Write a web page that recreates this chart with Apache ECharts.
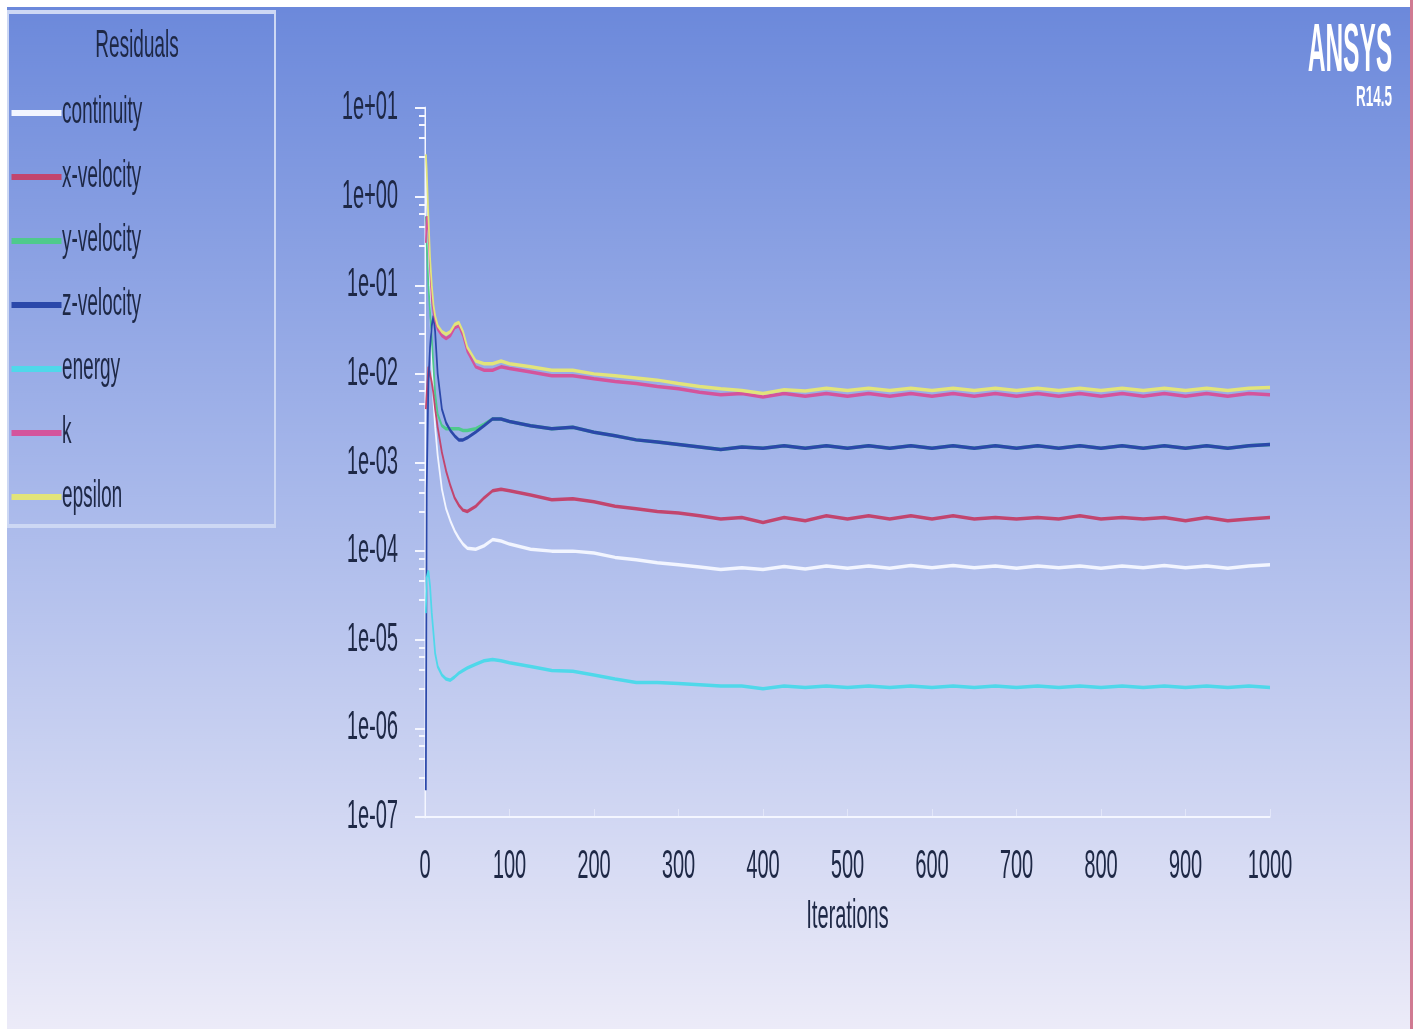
<!DOCTYPE html>
<html>
    <head>
        <title>Residuals</title>
        <meta charset="UTF-8">
        <style>
            html, body { margin: 0; padding: 0; background: #ffffff; overflow: hidden; }
            /* the ANSYS fonts are tall and narrow: draw twice as wide, then squeeze */
            #main { width: 2836px; height: 1029px; transform: scaleX(0.5); transform-origin: 0 0; }
        </style>
    </head>
    <body>
        <div id="main"></div>
        <script src="https://cdn.jsdelivr.net/npm/echarts@6/dist/echarts.min.js"></script>
        <script>
            var iterations = [1, 2, 4, 6, 8, 10, 12, 15, 20, 25, 30, 35, 40, 45, 50, 60, 70, 80, 90, 100,
                125, 150, 175, 200, 225, 250, 275, 300, 325, 350, 375, 400, 425, 450, 475, 500, 525, 550,
                575, 600, 625, 650, 675, 700, 725, 750, 775, 800, 825, 850, 875, 900, 925, 950, 975, 1000];

            var continuity = [2, 1, 0.3, 0.06, 0.015, 5e-3, 2.5e-3, 1.2e-3, 5e-4, 3e-4, 2.2e-4, 1.7e-4, 1.4e-4, 1.2e-4, 1.08e-4, 1.05e-4, 1.15e-4, 1.35e-4, 1.3e-4, 1.2e-4,
                1.05e-4, 1e-4, 1e-4, 9.5e-5, 8.5e-5, 8e-5, 7.4e-5, 7e-5, 6.6e-5, 6.2e-5, 6.5e-5, 6.2e-5, 6.7e-5, 6.3e-5, 6.8e-5, 6.4e-5, 6.8e-5, 6.4e-5,
                6.9e-5, 6.5e-5, 6.9e-5, 6.5e-5, 6.8e-5, 6.4e-5, 6.8e-5, 6.5e-5, 6.8e-5, 6.4e-5, 6.8e-5, 6.5e-5, 6.9e-5, 6.5e-5, 6.8e-5, 6.4e-5, 6.8e-5, 7e-5];
            var xVelocity = [4e-3, 6e-3, 1.2e-2, 1e-2, 8e-3, 6e-3, 4e-3, 2.5e-3, 1.3e-3, 8e-4, 5.5e-4, 4e-4, 3.3e-4, 2.9e-4, 2.8e-4, 3.2e-4, 4e-4, 4.8e-4, 5e-4, 4.8e-4,
                4.3e-4, 3.8e-4, 3.9e-4, 3.6e-4, 3.2e-4, 3e-4, 2.8e-4, 2.7e-4, 2.5e-4, 2.3e-4, 2.4e-4, 2.1e-4, 2.4e-4, 2.2e-4, 2.5e-4, 2.3e-4, 2.5e-4, 2.3e-4,
                2.5e-4, 2.3e-4, 2.5e-4, 2.3e-4, 2.4e-4, 2.3e-4, 2.4e-4, 2.3e-4, 2.5e-4, 2.3e-4, 2.4e-4, 2.3e-4, 2.4e-4, 2.2e-4, 2.4e-4, 2.2e-4, 2.3e-4, 2.4e-4];
            var yVelocity = [0.6, 0.3, 0.1, 0.05, 0.025, 0.012, 6e-3, 3.5e-3, 2.6e-3, 2.4e-3, 2.4e-3, 2.4e-3, 2.4e-3, 2.3e-3, 2.3e-3, 2.4e-3, 2.7e-3, 3.1e-3, 3.1e-3, 2.9e-3,
                2.6e-3, 2.4e-3, 2.5e-3, 2.2e-3, 2e-3, 1.8e-3, 1.7e-3, 1.6e-3, 1.5e-3, 1.4e-3, 1.5e-3, 1.45e-3, 1.55e-3, 1.45e-3, 1.55e-3, 1.45e-3, 1.55e-3, 1.45e-3,
                1.55e-3, 1.45e-3, 1.55e-3, 1.45e-3, 1.55e-3, 1.45e-3, 1.55e-3, 1.45e-3, 1.55e-3, 1.45e-3, 1.55e-3, 1.45e-3, 1.55e-3, 1.45e-3, 1.55e-3, 1.45e-3, 1.55e-3, 1.6e-3];
            var zVelocity = [2e-7, 5e-4, 8e-3, 2e-2, 3.5e-2, 4.5e-2, 3e-2, 1e-2, 4e-3, 2.8e-3, 2.3e-3, 2e-3, 1.8e-3, 1.8e-3, 1.9e-3, 2.2e-3, 2.6e-3, 3.1e-3, 3.1e-3, 2.9e-3,
                2.6e-3, 2.4e-3, 2.5e-3, 2.2e-3, 2e-3, 1.8e-3, 1.7e-3, 1.6e-3, 1.5e-3, 1.4e-3, 1.5e-3, 1.45e-3, 1.55e-3, 1.45e-3, 1.55e-3, 1.45e-3, 1.55e-3, 1.45e-3,
                1.55e-3, 1.45e-3, 1.55e-3, 1.45e-3, 1.55e-3, 1.45e-3, 1.55e-3, 1.45e-3, 1.55e-3, 1.45e-3, 1.55e-3, 1.45e-3, 1.55e-3, 1.45e-3, 1.55e-3, 1.45e-3, 1.55e-3, 1.6e-3];
            var energy = [2e-5, 5e-5, 6e-5, 4e-5, 2e-5, 1.2e-5, 7e-6, 5e-6, 4e-6, 3.6e-6, 3.5e-6, 3.8e-6, 4.2e-6, 4.5e-6, 4.8e-6, 5.3e-6, 5.8e-6, 6e-6, 5.8e-6, 5.5e-6,
                5e-6, 4.5e-6, 4.4e-6, 4e-6, 3.6e-6, 3.3e-6, 3.3e-6, 3.2e-6, 3.1e-6, 3e-6, 3e-6, 2.8e-6, 3e-6, 2.9e-6, 3e-6, 2.9e-6, 3e-6, 2.9e-6,
                3e-6, 2.9e-6, 3e-6, 2.9e-6, 3e-6, 2.9e-6, 3e-6, 2.9e-6, 3e-6, 2.9e-6, 3e-6, 2.9e-6, 3e-6, 2.9e-6, 3e-6, 2.9e-6, 3e-6, 2.9e-6];
            var kResidual = [0.3, 0.6, 0.4, 0.15, 0.07, 0.05, 0.04, 0.032, 0.027, 0.025, 0.027, 0.033, 0.035, 0.027, 0.018, 0.012, 0.011, 0.011, 0.012, 0.0115,
                0.0105, 0.0095, 0.0095, 0.0088, 0.0082, 0.0078, 0.0072, 0.0068, 0.0062, 0.0058, 0.006, 0.0055, 0.006, 0.0056, 0.006, 0.0056, 0.006, 0.0056,
                0.006, 0.0056, 0.006, 0.0056, 0.006, 0.0056, 0.006, 0.0056, 0.006, 0.0056, 0.006, 0.0056, 0.006, 0.0056, 0.006, 0.0056, 0.006, 0.0058];
            var epsilon = [3, 2, 0.6, 0.2, 0.1, 0.06, 0.045, 0.035, 0.03, 0.028, 0.03, 0.036, 0.038, 0.03, 0.02, 0.014, 0.013, 0.013, 0.014, 0.013,
                0.012, 0.011, 0.011, 0.01, 0.0095, 0.009, 0.0085, 0.0078, 0.0072, 0.0068, 0.0065, 0.006, 0.0066, 0.0064, 0.0069, 0.0065, 0.0069, 0.0065,
                0.0069, 0.0065, 0.0069, 0.0065, 0.0069, 0.0065, 0.0069, 0.0065, 0.0069, 0.0065, 0.0069, 0.0065, 0.0069, 0.0065, 0.0069, 0.0065, 0.0069, 0.007];

            var seriesNames = ['continuity', 'x-velocity', 'y-velocity', 'z-velocity', 'energy', 'k', 'epsilon'];
            var seriesValues = [continuity, xVelocity, yVelocity, zVelocity, energy, kResidual, epsilon];

            var gb = {
                color: {
                    text: '#1e2846',
                    axis: '#f4f6ff',
                    lines: ['#f2f5ff', '#c2456e', '#4fca8c', '#2b48aa', '#4fd8ea', '#d4549c', '#e2e47a']
                },
                font: 'Liberation Sans'
            };

            function pairs(values) {
                var out = [];
                for (var i = 0; i < iterations.length; i++) {
                    out.push([iterations[i], values[i]]);
                }
                return out;
            }

            var series = [];
            for (var i = 0; i < seriesNames.length; i++) {
                series.push({
                    name: seriesNames[i],
                    type: 'line',
                    symbol: 'none',
                    data: pairs(seriesValues[i]),
                    lineStyle: {color: gb.color.lines[i], width: 3.5},
                    itemStyle: {color: gb.color.lines[i]}
                });
            }

            var myChart = echarts.init(document.getElementById('main'));
            var option = {
                animation: false,
                graphic: [
                    {
                        type: 'rect', z: -10, silent: true,
                        shape: {x: 14, y: 7, width: 2806, height: 1022},
                        style: {
                            fill: new echarts.graphic.LinearGradient(0, 0, 0, 1, [
                                {offset: 0, color: '#6c89db'},
                                {offset: 0.45, color: '#a5b6ea'},
                                {offset: 1, color: '#ecebf8'}
                            ])
                        }
                    },
                    {
                        type: 'rect', z: -9, silent: true,
                        shape: {x: 2820, y: 0, width: 6, height: 1029},
                        style: {fill: '#d07a92'}
                    },
                    {
                        type: 'rect', z: -8, silent: true,
                        shape: {x: 16, y: 12, width: 534, height: 514},
                        style: {fill: 'none', stroke: '#cdd8f4', lineWidth: 4}
                    },
                    {
                        type: 'text', silent: true, x: 274, y: 47,
                        style: {text: 'Residuals', fill: gb.color.text, font: '38px "' + gb.font + '"',
                            align: 'center', verticalAlign: 'middle'}
                    },
                    {
                        type: 'text', silent: true, x: 2700, y: 52, scaleX: 0.72,
                        style: {text: 'ANSYS', fill: '#ffffff', font: 'bold 68px "' + gb.font + '"',
                            align: 'center', verticalAlign: 'middle'}
                    },
                    {
                        type: 'text', silent: true, x: 2748, y: 98, scaleX: 0.9,
                        style: {text: 'R14.5', fill: '#ffffff', font: 'bold 30px "' + gb.font + '"',
                            align: 'center', verticalAlign: 'middle'}
                    }
                ],
                legend: {
                    orient: 'vertical',
                    left: 18,
                    top: 89,
                    icon: 'rect',
                    itemWidth: 100,
                    itemHeight: 6,
                    itemGap: 26,
                    data: seriesNames,
                    textStyle: {color: gb.color.text, fontSize: 38, fontFamily: gb.font, padding: [0, 0, 0, -4]}
                },
                grid: {left: 850, right: 296, top: 108, bottom: 212},
                xAxis: {
                    type: 'value',
                    min: 0,
                    max: 1000,
                    interval: 100,
                    name: 'Iterations',
                    nameLocation: 'middle',
                    nameGap: 80,
                    nameTextStyle: {color: gb.color.text, fontSize: 40, fontFamily: gb.font},
                    axisLine: {lineStyle: {color: gb.color.axis, width: 2}},
                    axisTick: {show: true, inside: true, length: 8, lineStyle: {color: gb.color.axis}},
                    axisLabel: {
                        color: gb.color.text, fontSize: 40, fontFamily: gb.font, margin: 30,
                        formatter: function (v) {
                            return String(v);
                        }
                    },
                    splitLine: {show: false}
                },
                yAxis: {
                    type: 'log',
                    logBase: 10,
                    min: 1e-7,
                    max: 10,
                    splitNumber: 8,
                    axisLine: {show: true, lineStyle: {color: gb.color.axis, width: 3}},
                    axisTick: {show: true, length: 20, lineStyle: {color: gb.color.axis, width: 2}},
                    minorTick: {show: true, splitNumber: 5, length: 12, lineStyle: {color: gb.color.axis, width: 2}},
                    axisLabel: {
                        color: gb.color.text, fontSize: 40, fontFamily: gb.font, margin: 54,
                        formatter: function (v) {
                            var e = Math.round(Math.log(v) / Math.LN10);
                            var a = Math.abs(e);
                            return '1e' + (e < 0 ? '-' : '+') + (a < 10 ? '0' : '') + a;
                        }
                    },
                    splitLine: {show: false}
                },
                series: series
            };
            myChart.setOption(option);
        </script>
    </body>
</html>
